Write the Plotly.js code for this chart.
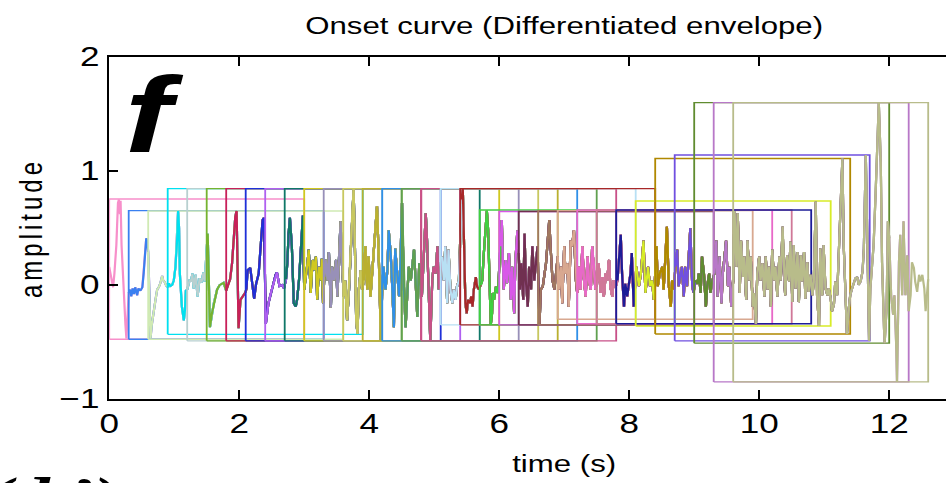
<!DOCTYPE html>
<html><head><meta charset="utf-8">
<script src="https://cdn.plot.ly/plotly-3.0.1.min.js"></script>
<style>
html,body{margin:0;padding:0;overflow:hidden;width:946px;height:483px;background:#fff}
#wrap{width:946px;height:483px;overflow:hidden;position:relative}
#chart{width:800px;height:483px;transform:scaleX(1.3);transform-origin:0 0}
#chart .ytitle{letter-spacing:4px}
</style></head><body><div id="wrap"><div id="chart"></div></div>
<script>
// ---- data ----
const time = [0.00,0.03,0.06,0.08,0.11,0.135,0.15,0.165,0.175,0.19,0.21,0.23,0.25,0.265,0.28,0.30,
0.32,0.34,0.36,0.38,0.40,0.43,0.45,0.48,0.51,0.53,0.55,0.57,0.585,0.60,
0.62,0.635,0.655,0.676,0.712,0.738,0.763,0.789,0.815,0.83,0.85,0.88,0.90,
0.917,0.94,0.968,0.994,1.02,1.045,1.06,1.075,1.087,1.118,1.148,1.165,1.179,1.20,
1.22,1.24,1.26,1.28,1.30,1.33,1.36,1.39,1.42,1.45,1.47,1.49,
1.515,1.55,1.58,1.61,1.66,1.70,1.76,1.80,
1.83,1.86,1.89,1.92,1.94,1.96,1.975,1.99,2.02,2.06,2.09,
2.11,2.13,2.17,2.20,2.23,2.26,2.30,2.33,2.36,2.38,2.395,
2.41,2.45,2.50,2.53,2.56,2.58,2.62,2.66,2.69,
2.72,2.74,2.76,2.78,2.81,2.84,2.87,2.89,2.92,2.94,2.98,
3.00,3.02,3.05,3.07,3.09,3.10,3.13,3.15,3.18,3.20,3.23,3.26,3.27,3.29,
3.31,3.33,3.36,3.38,3.41,3.43,3.46,3.49,3.51,3.54,3.56,3.58,
3.61,3.63,3.66,3.69,3.71,3.74,3.76,3.78,3.80,3.82,3.84,3.87,3.89,
3.92,3.94,3.97,3.99,4.02,4.05,4.07,4.10,4.12,4.15,4.18,4.20,
4.22,4.25,4.28,4.30,4.33,4.35,4.38,4.40,4.43,4.46,4.48,
4.505,4.53,4.56,4.59,4.61,4.64,4.66,4.69,4.72,4.74,4.77,4.79,
4.81,4.84,4.87,4.89,4.92,4.94,4.97,4.99,5.02,5.05,5.07,5.09,
5.12,5.15,5.17,5.20,5.22,5.25,5.28,5.30,5.33,5.35,5.38,
5.42,5.44,5.46,5.48,5.50,5.52,5.55,5.57,5.59,5.61,5.64,5.66,5.69,
5.72,5.74,5.76,5.79,5.81,5.83,5.85,5.87,5.89,5.90,5.92,5.95,5.98,
6.02,6.04,6.05,6.07,6.10,6.12,6.15,6.18,6.20,6.23,6.25,6.28,6.30,
6.32,6.34,6.37,6.39,6.41,6.44,6.46,6.49,6.51,6.54,6.57,6.59,
6.62,6.64,6.67,6.69,6.72,6.74,6.77,6.79,6.82,6.85,6.87,6.90,
6.92,6.95,6.97,7.00,7.02,7.05,7.07,7.10,7.12,7.15,7.18,7.20,
7.23,7.25,7.28,7.30,7.33,7.36,7.38,7.41,7.43,7.46,7.48,
7.51,7.53,7.56,7.59,7.61,7.64,7.66,7.69,7.71,7.74,7.76,7.79,
7.82,7.84,7.87,7.89,7.92,7.94,7.97,7.99,8.02,8.04,8.07,
8.11,8.15,8.18,8.22,8.25,8.29,8.32,8.35,8.38,
8.42,8.44,8.47,8.51,8.53,8.56,8.58,8.61,8.64,8.66,8.69,
8.71,8.74,8.76,8.79,8.81,8.84,8.86,8.89,8.92,8.94,8.97,8.99,
9.02,9.05,9.07,9.10,9.12,9.15,9.18,9.20,9.23,9.25,9.28,
9.31,9.34,9.36,9.39,9.42,9.44,9.47,9.49,9.52,9.54,9.57,9.60,
9.62,9.65,9.67,9.70,9.72,9.75,9.77,9.80,9.82,9.85,9.87,9.90,9.92,9.95,9.97,
10.00,10.02,10.05,10.08,10.10,10.13,10.15,10.18,10.20,10.23,10.25,10.28,10.31,10.33,10.36,10.38,
10.40,10.43,10.46,10.48,10.51,10.53,10.56,10.59,10.61,10.64,10.66,10.69,10.71,10.74,10.76,10.79,10.82,10.84,
10.87,10.89,10.92,10.94,10.97,10.99,11.02,11.05,11.07,11.10,11.12,11.15,11.17,11.20,11.22,11.25,
11.28,11.30,11.33,11.35,11.38,11.40,11.43,11.46,11.48,11.51,11.53,11.56,11.59,11.61,
11.64,11.66,11.69,11.71,11.74,11.76,11.79,11.82,11.84,11.87,11.89,11.92,11.93,11.96,11.98,
12.00,12.03,12.06,12.08,12.11,12.12,12.15,12.17,12.20,12.22,12.25,12.28,12.30,12.33,12.35,
12.38,12.40,12.43,12.46,12.48,12.51,12.54,12.56,12.58,12.60];

const amplitude = [0.16,0.05,-0.02,0.10,0.35,0.72,0.75,0.62,0.74,0.35,0.05,-0.15,-0.35,-0.47,-0.20,-0.07,
-0.04,-0.10,-0.03,-0.08,-0.02,-0.09,-0.03,-0.05,-0.02,0.10,0.30,0.41,0.38,0.29,
-0.10,-0.47,-0.35,-0.25,-0.13,-0.04,-0.02,0.02,0.08,0.04,0.03,-0.01,-0.02,
0.015,-0.01,0.00,0.04,0.16,0.40,0.65,0.50,0.10,-0.19,-0.31,-0.22,-0.05,-0.04,
0.02,0.05,0.03,0.10,-0.03,0.09,-0.10,0.06,0.02,0.11,0.03,0.25,
0.45,-0.37,-0.25,-0.16,-0.04,0.00,0.02,-0.05,
0.01,0.05,0.19,0.45,0.60,0.65,0.10,-0.38,-0.13,-0.10,-0.07,
-0.04,0.13,0.15,0.04,-0.12,0.01,0.10,0.34,0.57,0.59,0.10,
-0.34,-0.16,-0.04,0.02,0.09,0.11,-0.01,0.00,-0.03,
0.05,0.19,0.45,0.59,0.34,-0.16,-0.19,-0.13,0.04,0.28,0.61,
-0.04,0.04,0.19,0.31,0.07,-0.07,0.22,0.13,0.25,-0.13,0.16,0.04,0.23,-0.16,
0.07,0.22,0.04,0.29,-0.20,0.16,0.04,0.22,-0.10,0.34,0.56,0.19,
-0.10,0.04,-0.31,-0.04,0.25,0.63,0.845,0.34,-0.31,-0.43,-0.04,0.13,-0.04,
0.04,0.34,-0.04,0.25,-0.10,0.13,0.34,0.48,0.69,0.19,-0.49,-0.04,
0.16,-0.04,0.13,0.48,0.28,0.04,-0.37,0.32,0.10,-0.10,0.19,
0.72,0.04,-0.37,-0.04,0.16,0.04,0.13,0.31,-0.04,-0.28,0.19,-0.04,
-0.10,0.25,0.63,0.39,-0.16,-0.49,0.04,0.16,0.10,0.34,-0.04,0.07,
0.25,0.04,0.34,-0.16,0.31,-0.04,-0.16,-0.04,-0.13,-0.015,0.04,
0.75,0.845,0.34,-0.16,-0.25,-0.13,-0.16,-0.10,-0.19,-0.04,0.07,-0.015,-0.04,
0.00,0.04,0.25,0.48,0.65,0.48,0.04,-0.35,-0.25,-0.07,-0.13,-0.015,-0.07,
0.34,0.57,0.34,-0.04,0.22,0.015,0.28,-0.13,0.16,-0.25,0.22,0.48,0.28,
-0.04,0.19,-0.13,0.45,0.04,-0.19,0.16,-0.04,0.34,0.04,0.25,0.34,
-0.35,-0.04,-0.015,0.07,0.19,0.34,0.57,0.34,0.04,-0.04,0.10,0.25,
-0.04,0.16,-0.16,0.34,0.10,0.19,-0.19,0.39,0.34,0.48,0.04,-0.07,
0.16,-0.04,0.34,0.07,-0.10,0.25,0.04,-0.04,0.34,0.16,-0.04,
0.04,0.19,-0.07,0.07,-0.10,0.10,0.04,0.22,-0.015,-0.10,0.04,-0.02,
0.04,0.22,0.44,0.10,-0.19,0.01,-0.10,-0.01,0.10,0.28,-0.19,
0.16,-0.01,0.10,0.39,-0.07,0.16,-0.01,0.04,-0.13,
0.34,-0.01,0.10,0.16,-0.04,0.28,0.51,-0.01,-0.19,0.04,-0.04,
0.16,0.31,-0.01,0.10,0.16,-0.10,0.16,-0.01,0.39,0.50,-0.01,-0.07,
0.04,0.01,0.10,-0.07,0.25,0.10,-0.19,-0.01,0.10,-0.07,0.04,
0.10,0.39,-0.10,0.25,-0.16,0.10,0.25,0.39,-0.01,0.16,-0.19,0.04,
0.65,0.16,0.63,-0.07,0.39,0.07,0.25,-0.13,0.39,0.04,0.25,-0.19,-0.07,-0.34,0.10,
0.25,0.04,0.19,-0.10,0.25,-0.04,0.16,-0.19,0.31,0.04,0.16,-0.10,0.25,0.04,0.51,0.10,
-0.09,0.26,0.03,0.38,-0.15,0.35,-0.03,0.29,-0.15,0.26,0.03,0.29,-0.12,0.20,-0.06,0.09,-0.09,0.03,
0.73,-0.09,-0.36,0.32,-0.09,0.35,-0.03,-0.09,-0.03,-0.12,-0.23,-0.17,0.03,-0.09,0.20,0.50,
1.11,0.35,-0.23,-0.43,-0.20,-0.09,-0.03,0.03,0.06,0.07,0.00,0.03,0.12,0.32,
1.14,0.50,-0.49,-0.03,0.20,0.35,0.79,1.32,1.60,1.08,0.20,-0.38,-0.51,-0.20,0.56,
0.41,-0.09,-0.26,-0.09,-0.56,-0.85,0.20,0.44,-0.09,0.56,-0.09,0.26,-0.23,-0.09,0.20,
0.15,0.03,-0.06,0.09,0.03,0.09,-0.03,-0.23,-0.09,0.05];

const frameStart = [0.0,0.3,0.6,0.9,1.2,1.5,1.8,2.1,2.4,2.7,3.0,3.3,3.6,3.9,4.2,4.5,4.8,5.1,5.4,5.7,6.0,6.3,6.6,6.9,7.2,7.5,7.8,8.1,8.4,8.7,9.0,9.3,9.6];
const frameEnd = [3.0,3.3,3.6,3.9,4.2,4.5,4.8,5.1,5.4,5.7,6.0,6.3,6.6,6.9,7.2,7.5,7.8,8.1,8.4,8.7,9.0,9.3,9.6,9.9,10.2,10.5,10.8,11.1,11.4,11.7,12.0,12.3,12.6];
const frameMax = [0.754,0.652,0.649,0.845,0.845,0.845,0.845,0.845,0.845,0.845,0.845,0.845,0.845,0.845,0.845,0.845,0.845,0.845,0.845,0.658,0.645,0.645,0.652,0.652,0.658,0.658,0.658,0.737,1.11,1.14,1.60,1.60,1.60];
const frameMin = [-0.476,-0.476,-0.476,-0.433,-0.49,-0.49,-0.49,-0.49,-0.49,-0.49,-0.49,-0.49,-0.49,-0.49,-0.49,-0.49,-0.49,-0.35,-0.35,-0.35,-0.35,-0.35,-0.35,-0.30,-0.34,-0.34,-0.34,-0.36,-0.43,-0.49,-0.51,-0.85,-0.85];
const frameColors = ['#f78fca','#3a80f0','#d0eab4','#00e0f0','#b8d0d0','#76b330','#c8205a','#1f30d8','#b060f0','#107868',
'#d0c820','#9890b8','#c8c860','#bab030','#3090e8','#60a050','#c85088','#b8e0f4','#a82828','#40d040',
'#d858e8','#703050','#a07860','#d8a890','#e868c8','#d07898','#1c1c98','#d8ec28','#b08800','#7050e0',
'#608c30','#b878c8','#b8bc8a'];

const xTicks = [0,2,4,6,8,10,12];
const yTicks = [-1,0,1,2];
const titleText = 'Onset curve (Differentiated envelope)';
const xLabel = 'time (s)';
const yLabel = 'amplitude';
const panelLetter = 'f';
const cutLabel = '(d ’)';

// ---- drawing ----
const FONT = 'Liberation Sans, Arial, Helvetica, sans-serif';
const traces = [];
frameStart.forEach((s, k) => {
  const e = frameEnd[k];
  const xs = [], ys = [];
  time.forEach((t, i) => { if (t >= s - 1e-9 && t <= e + 1e-9) { xs.push(t); ys.push(amplitude[i]); } });
  traces.push({type:'scatter', mode:'lines', x:xs, y:ys, line:{color:frameColors[k], width:1.7}, hoverinfo:'skip'});
  traces.push({type:'scatter', mode:'lines',
    x:[s, e, e, s, s], y:[frameMin[k], frameMin[k], frameMax[k], frameMax[k], frameMin[k]],
    line:{color:frameColors[k], width:1.4}, hoverinfo:'skip'});
});

const layout = {
  width: 800, height: 483,
  margin: {l: 83.6, r: 16.4, t: 57, b: 84, pad: 0},
  paper_bgcolor: '#fff', plot_bgcolor: '#fff',
  showlegend: false,
  font: {family: FONT, color: '#000'},
  title: {text: titleText, font: {family: FONT, size: 24, color: '#000'},
          x: 0.5, xref: 'paper', xanchor: 'center', y: 1 - 26/483, yref: 'container', yanchor: 'middle'},
  xaxis: {range: [0, 14], tickvals: xTicks, ticktext: xTicks.map(String), ticks: 'inside', ticklen: 9, tickwidth: 1.2,
          tickcolor: '#000', showline: true, linecolor: '#000', linewidth: 2, mirror: 'ticks',
          showgrid: false, zeroline: false, tickfont: {family: FONT, size: 27, color: '#000'},
          title: {text: xLabel, font: {family: FONT, size: 24, color: '#000'}, standoff: 17}, automargin: false},
  yaxis: {range: [-1, 2], tickvals: yTicks, ticks: 'inside', ticklen: 7, tickwidth: 1.6,
          tickcolor: '#000', showline: true, linecolor: '#000', linewidth: 2, mirror: 'ticks',
          showgrid: false, zeroline: false, tickfont: {family: FONT, size: 27, color: '#000'},
          title: {text: yLabel, font: {family: FONT, size: 24, color: '#000'}, standoff: 6}, automargin: false},
  annotations: [
    {text: '<b><i>' + panelLetter + '</i></b>', xref: 'x', yref: 'y', x: 0.68, y: 1.50, xanchor: 'center', yanchor: 'middle',
     showarrow: false, font: {family: 'Liberation Sans Narrow, Liberation Sans, Arial, sans-serif', size: 108, color: '#000'}},
    {text: '<b><i>' + cutLabel + '</i></b>', xref: 'paper', yref: 'paper', x: -0.137, y: -0.186, xanchor: 'left', yanchor: 'top',
     showarrow: false, font: {family: 'Liberation Serif, serif', size: 58, color: '#000'}}
  ]
};

Plotly.newPlot('chart', traces, layout, {staticPlot: true, displayModeBar: false});
</script></body></html>
